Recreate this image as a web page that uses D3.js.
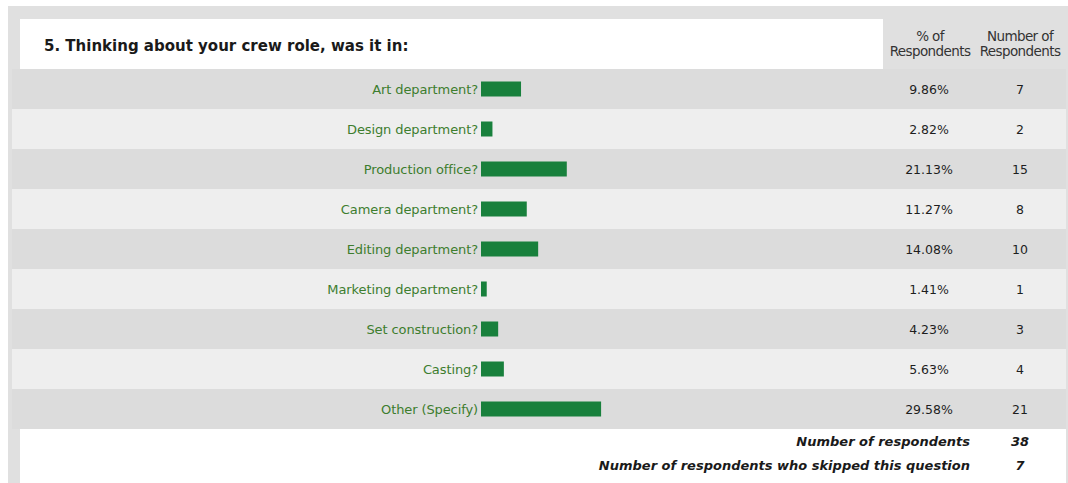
<!DOCTYPE html>
<html><head><meta charset="utf-8">
<script src="https://cdn.jsdelivr.net/npm/d3@7"></script>
<style>html,body{margin:0;padding:0;background:#fff;}svg{display:block;}</style>
</head><body>
<svg id="chart" width="1068" height="483"></svg>
<script>
const title = "5. Thinking about your crew role, was it in:";
const categories = ["Art department?","Design department?","Production office?","Camera department?","Editing department?","Marketing department?","Set construction?","Casting?","Other (Specify)"];
const percents = [9.86, 2.82, 21.13, 11.27, 14.08, 1.41, 4.23, 5.63, 29.58];
const counts = [7, 2, 15, 8, 10, 1, 3, 4, 21];
const headerPct = ["% of", "Respondents"];
const headerNum = ["Number of", "Respondents"];
const footerLabels = ["Number of respondents", "Number of respondents who skipped this question"];
const footerValues = [38, 7];

const svg = d3.select("#chart");
const font = "'DejaVu Sans', Verdana, sans-serif";

// frame
svg.append("rect").attr("x",8).attr("y",6).attr("width",1060).attr("height",477).attr("fill","#e0e0e0");
// header white box
svg.append("rect").attr("x",20).attr("y",19).attr("width",863).attr("height",50).attr("fill","#ffffff");
svg.append("text").attr("x",44).attr("y",51).attr("font-family",font).attr("font-weight","bold")
  .attr("font-size",15).attr("letter-spacing","0").attr("fill","#1a1a1a").text(title);

const y = d3.scaleBand().domain(categories).range([69, 429]).padding(0);
const x = d3.scaleLinear().domain([0, 100]).range([0, 406]);
const barX = 481;

const rows = svg.append("g").selectAll("g").data(categories).join("g");
rows.append("rect").attr("x",12).attr("width",1054)
  .attr("y", d => y(d)).attr("height", y.bandwidth())
  .attr("fill", (d,i) => i % 2 === 0 ? "#dcdcdc" : "#eeeeee");
rows.append("rect").attr("x", barX).attr("y", d => y(d) + y.bandwidth()/2 - 7.5)
  .attr("height", 15).attr("width", (d,i) => x(percents[i])).attr("fill", "#18803c");
rows.append("text").attr("x", barX - 3).attr("y", d => y(d) + y.bandwidth()/2 + 5)
  .attr("text-anchor","end").attr("font-family",font).attr("font-size",13)
  .attr("fill","#3d7d2e").attr("letter-spacing","-0.1").text(d => d);
rows.append("text").attr("x", 929).attr("y", d => y(d) + y.bandwidth()/2 + 5)
  .attr("text-anchor","middle").attr("font-family",font).attr("font-size",12.5)
  .attr("fill","#1e1e1e").text((d,i) => percents[i].toFixed(2) + "%");
rows.append("text").attr("x", 1020).attr("y", d => y(d) + y.bandwidth()/2 + 5)
  .attr("text-anchor","middle").attr("font-family",font).attr("font-size",12.5)
  .attr("fill","#1e1e1e").text((d,i) => counts[i]);

// headers
[[headerPct, 930],[headerNum, 1020]].forEach(([lines, cx]) => {
  lines.forEach((t, j) => {
    svg.append("text").attr("x", cx).attr("y", 41 + j*15).attr("text-anchor","middle")
      .attr("font-family",font).attr("font-size",13.5).attr("letter-spacing","-0.6")
      .attr("fill","#333").text(t);
  });
});

// footer
svg.append("rect").attr("x",20).attr("y",429).attr("width",1046).attr("height",54).attr("fill","#ffffff");
footerLabels.forEach((t, j) => {
  svg.append("text").attr("x", 970).attr("y", 446 + j*24).attr("text-anchor","end")
    .attr("font-family",font).attr("font-weight","bold").attr("font-style","italic")
    .attr("font-size",13).attr("fill","#1a1a1a").text(t);
  svg.append("text").attr("x", 1020).attr("y", 446 + j*24).attr("text-anchor","middle")
    .attr("font-family",font).attr("font-weight","bold").attr("font-style","italic")
    .attr("font-size",13).attr("fill","#1a1a1a").text(footerValues[j]);
});
</script>
</body></html>
